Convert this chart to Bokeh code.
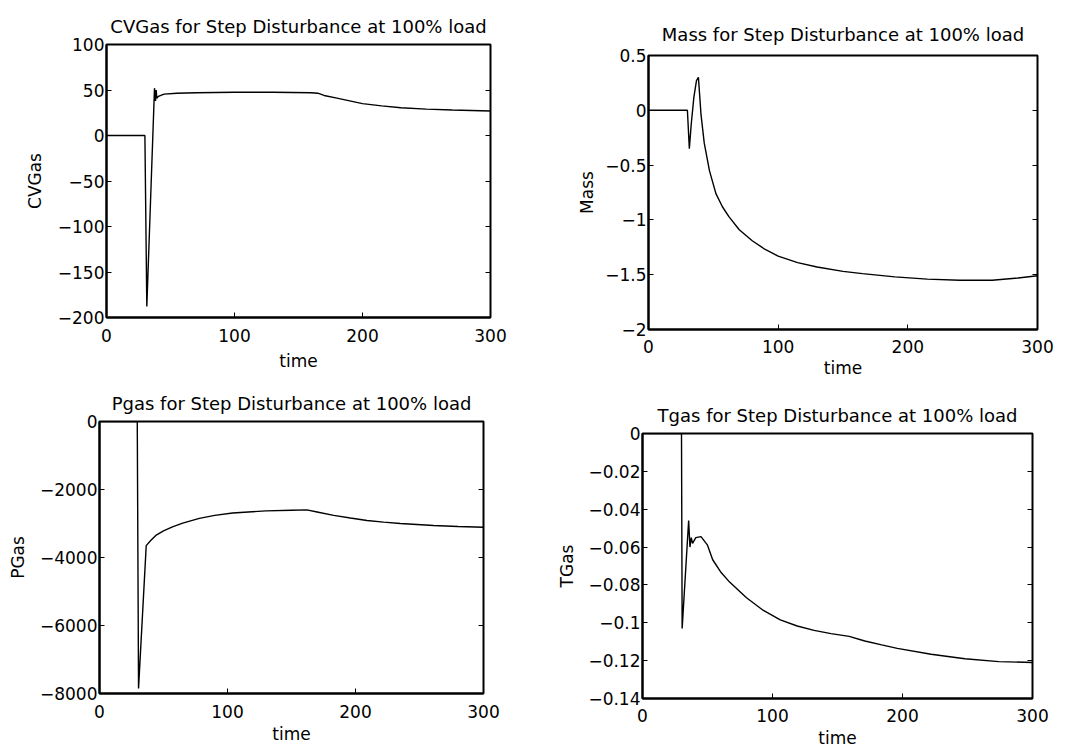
from bokeh.plotting import figure
from bokeh.layouts import column, row
from bokeh.models import Range1d, FixedTicker, LinearAxis
from bokeh.embed import file_html
from bokeh.resources import INLINE

# ---------------- data ----------------
x_ticks = [0, 100, 200, 300]
x_tick_labels = ["0", "100", "200", "300"]

cv_time = [0, 30, 31.5, 37.5, 38.3, 38.8, 39.3, 40.5, 45, 55, 70, 100, 130, 160,
           165, 170, 180, 190, 200, 215, 230, 250, 270, 300]
cv_gas = [0, 0, -188, 52, 38, 50, 41, 43, 45.5, 46.5, 47, 47.5, 47.5, 47,
          46.5, 44, 41, 38, 35, 32.5, 30.5, 29, 28, 27]
cv_ticks = [-200, -150, -100, -50, 0, 50, 100]
cv_tick_labels = ["\u2212200", "\u2212150", "\u2212100", "\u221250", "0", "50", "100"]

mass_time = [0, 30, 31.5, 33, 35, 37, 38.5, 40.5, 43, 47, 52, 57, 62, 70, 80, 90,
             100, 115, 130, 150, 165, 190, 215, 240, 265, 285, 300]
mass = [0, 0, -0.35, -0.12, 0.12, 0.27, 0.3, -0.04, -0.3, -0.55, -0.76, -0.88,
        -0.97, -1.09, -1.19, -1.27, -1.33, -1.39, -1.43, -1.47, -1.49, -1.52,
        -1.54, -1.55, -1.55, -1.53, -1.51]
mass_ticks = [-2, -1.5, -1, -0.5, 0, 0.5]
mass_tick_labels = ["\u22122", "\u22121.5", "\u22121", "\u22120.5", "0", "0.5"]

pg_time = [0, 29.5, 30.5, 36.5, 40, 44, 50, 57, 65, 78, 90, 104, 130, 150, 162,
           170, 183, 196, 209, 222, 235, 261, 280, 300]
pgas = [0, 0, -7850, -3650, -3500, -3350, -3220, -3100, -2990, -2850, -2760,
        -2690, -2630, -2610, -2600, -2660, -2760, -2840, -2910, -2960, -3000,
        -3060, -3090, -3110]
pg_ticks = [-8000, -6000, -4000, -2000, 0]
pg_tick_labels = ["\u22128000", "\u22126000", "\u22124000", "\u22122000", "0"]

tg_time = [0, 30, 30.5, 35.5, 36.5, 37.5, 38.5, 41, 45, 50, 54, 60, 67, 80, 93,
           106, 119, 132, 145, 159, 171, 184, 196, 222, 248, 274, 300]
tgas = [0, 0, -0.103, -0.046, -0.06, -0.055, -0.058, -0.055, -0.0545, -0.059,
        -0.0667, -0.073, -0.0785, -0.0868, -0.0935, -0.0985, -0.1017, -0.104,
        -0.1057, -0.1072, -0.1096, -0.1117, -0.1135, -0.1166, -0.119, -0.1205,
        -0.121]
tg_ticks = [-0.14, -0.12, -0.1, -0.08, -0.06, -0.04, -0.02, 0]
tg_tick_labels = ["\u22120.14", "\u22120.12", "\u22120.1", "\u22120.08",
                  "\u22120.06", "\u22120.04", "\u22120.02", "0"]

FONT = "DejaVu Sans"


def panel(title, ylabel, t, v, yrange, yticks, ylabels, width, height,
          bl, br, bt, bb, title_standoff, ylab_standoff, xtick_standoff,
          xlab_standoff):
    p = figure(width=width, height=height,
               x_range=Range1d(0, 300), y_range=Range1d(*yrange),
               output_backend="svg", toolbar_location=None,
               min_border_left=bl, min_border_right=br,
               min_border_top=bt, min_border_bottom=bb,
               background_fill_color="white", border_fill_color="white")
    p.title.text = title
    p.title.align = "center"
    p.title.text_font = FONT
    p.title.text_font_size = "18px"
    p.title.text_font_style = "normal"
    p.title.text_color = "black"
    p.title.standoff = title_standoff

    p.line(t, v, line_color="black", line_width=1.4)

    p.grid.visible = False
    p.outline_line_color = "black"
    p.outline_line_width = 2

    xa = p.xaxis[0]
    xa.ticker = FixedTicker(ticks=x_ticks)
    xa.major_label_overrides = dict(zip(x_ticks, x_tick_labels))
    xa.axis_label = "time"
    xa.axis_label_standoff = xlab_standoff
    xa.major_label_standoff = xtick_standoff

    ya = p.yaxis[0]
    ya.ticker = FixedTicker(ticks=yticks)
    ya.major_label_overrides = dict(zip(yticks, ylabels))
    ya.axis_label = ylabel
    ya.axis_label_standoff = ylab_standoff
    ya.major_label_standoff = 2

    for ax in (xa, ya):
        ax.axis_line_color = "black"
        ax.axis_line_width = 2
        ax.major_tick_in = 5
        ax.major_tick_out = 0
        ax.major_tick_line_color = "black"
        ax.minor_tick_line_color = None
        ax.major_label_text_font = FONT
        ax.major_label_text_font_size = "17px"
        ax.major_label_text_color = "black"
        ax.axis_label_text_font = FONT
        ax.axis_label_text_font_size = "17px"
        ax.axis_label_text_font_style = "normal"
        ax.axis_label_text_color = "black"

    ra = LinearAxis(ticker=FixedTicker(ticks=yticks), major_tick_in=5,
                    major_tick_out=0, major_label_text_font_size="1px",
                    major_label_text_color=None,
                    major_label_standoff=0, minor_tick_line_color=None,
                    axis_line_color=None, major_tick_line_color="black")
    p.add_layout(ra, "right")
    return p


# page coordinates start at (0, 0)
p1 = panel("CVGas for Step Disturbance at 100% load", "CVGas", cv_time, cv_gas,
           (-200, 100), cv_ticks, cv_tick_labels, 533, 378,
           106, 43, 44, 61, 16, 10, 11, 6)
p3 = panel("Pgas for Step Disturbance at 100% load", "PGas", pg_time, pgas,
           (-8000, 0), pg_ticks, pg_tick_labels, 533, 372,
           99, 50, 43, 57, 15, 9, 11, 3)
p2 = panel("Mass for Step Disturbance at 100% load", "Mass", mass_time, mass,
           (-2, 0.5), mass_ticks, mass_tick_labels, 533, 384,
           115, 29, 55, 55, 22, 5, 10, 2)
p4 = panel("Tgas for Step Disturbance at 100% load", "TGas", tg_time, tgas,
           (-0.14, 0), tg_ticks, tg_tick_labels, 533, 366,
           109, 34, 49, 48, 16, 8, 10, 3)

layout = row(column(row(p1), row(p3)), column(row(p2), row(p4)))

open("out.html", "w").write(file_html(layout, INLINE))
